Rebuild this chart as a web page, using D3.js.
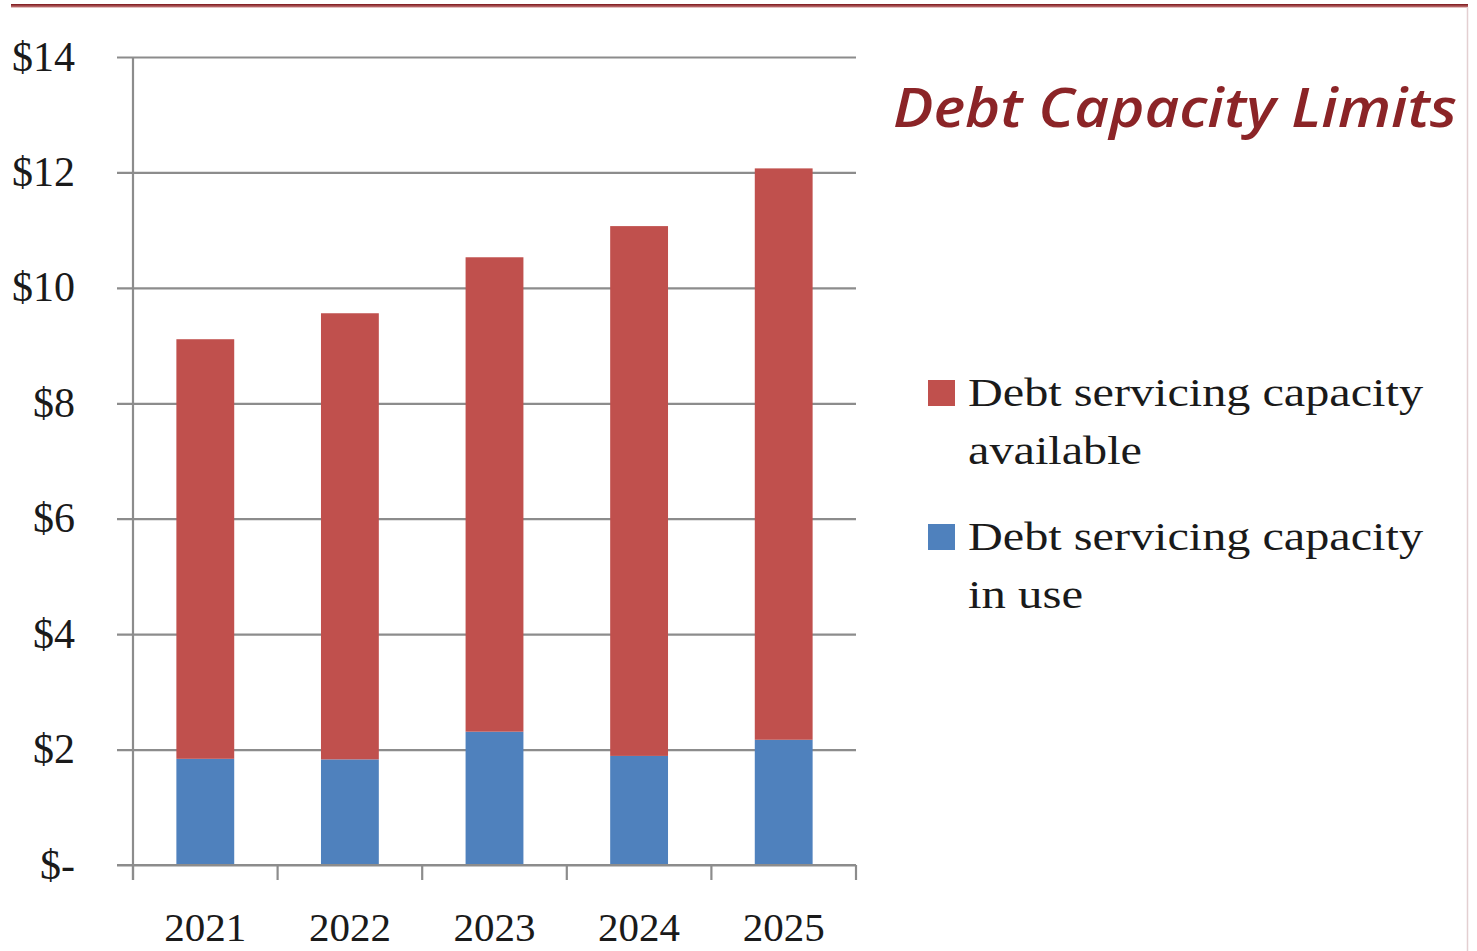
<!DOCTYPE html>
<html>
<head>
<meta charset="utf-8">
<script src="https://cdn.jsdelivr.net/npm/d3@7"></script>
<style>
  html, body { margin: 0; padding: 0; background: #fff; }
  svg { display: block; }
</style>
</head>
<body>
<svg id="chart" width="1477" height="951"></svg>
<script>
// ---- data ----
const years = ["2021", "2022", "2023", "2024", "2025"];
const inUse = [1.84, 1.83, 2.31, 1.89, 2.17];
const available = [7.27, 7.73, 8.22, 9.18, 9.90];
const yTicks = [0, 2, 4, 6, 8, 10, 12, 14];
const yTickLabels = ["$-", "$2", "$4", "$6", "$8", "$10", "$12", "$14"];
const seriesNames = ["Debt servicing capacity available", "Debt servicing capacity in use"];
const legendLines = [["Debt servicing capacity", "available"], ["Debt servicing capacity", "in use"]];
const title = "Debt Capacity Limits";

const colors = { available: "#C0504D", inUse: "#4F81BD" };
const gridColor = "#8c8c8c";
const serif = "'Liberation Serif', 'Times New Roman', serif";

const svg = d3.select("#chart");

// top decorative rule
const defs = svg.append("defs");
const grad = defs.append("linearGradient").attr("id", "rule").attr("x1", 0).attr("y1", 0).attr("x2", 0).attr("y2", 1);
grad.append("stop").attr("offset", "0%").attr("stop-color", "#7a1419");
grad.append("stop").attr("offset", "100%").attr("stop-color", "#c98080");
svg.append("rect").attr("x", 11).attr("y", 4).attr("width", 1457).attr("height", 3.5).attr("fill", "url(#rule)");
svg.append("line").attr("x1", 1467.5).attr("x2", 1467.5).attr("y1", 7).attr("y2", 951)
  .attr("stroke", "#e3cfd1").attr("stroke-width", 1.5);

// scales
const x = d3.scaleBand().domain(years).range([133, 856]).paddingInner(0.6).paddingOuter(0.3);
const y = d3.scaleLinear().domain([0, 14]).range([865, 57]);

// gridlines (extend left past axis as ticks)
const gridG = svg.append("g").attr("transform", "translate(856,0)")
  .call(d3.axisLeft(y).tickValues(yTicks).tickSize(856 - 117).tickFormat(""));
gridG.select(".domain").remove();
gridG.selectAll(".tick line").attr("stroke", gridColor).attr("stroke-width", 2.2);

// stacked bars
const rows = years.map((yr, i) => ({ year: yr, inUse: inUse[i], available: available[i] }));
const stack = d3.stack().keys(["inUse", "available"]);
const stacked = stack(rows);
svg.append("g").selectAll("g").data(stacked).join("g")
  .attr("fill", d => colors[d.key])
  .selectAll("rect").data(d => d).join("rect")
  .attr("x", d => x(d.data.year))
  .attr("width", x.bandwidth())
  .attr("y", d => y(d[1]))
  .attr("height", d => y(d[0]) - y(d[1]));

// y axis line
svg.append("line").attr("x1", 133).attr("x2", 133).attr("y1", y(14)).attr("y2", 880)
  .attr("stroke", gridColor).attr("stroke-width", 2.2);

// y labels
const yAxis = svg.append("g").attr("transform", "translate(133,0)")
  .call(d3.axisLeft(y).tickValues(yTicks).tickSize(0).tickPadding(58)
    .tickFormat((d, i) => yTickLabels[yTicks.indexOf(d)]));
yAxis.select(".domain").remove();
yAxis.selectAll("text").attr("font-family", serif).attr("font-size", 42).attr("fill", "#1a1a1a").attr("dy", "0.31em");

// x axis
const xAxis = svg.append("g").attr("transform", `translate(0,${y(0)})`)
  .call(d3.axisBottom(x).tickSize(0).tickPadding(0));
xAxis.select(".domain").remove();
xAxis.selectAll("text").attr("font-family", serif).attr("font-size", 41).attr("fill", "#1a1a1a")
  .attr("y", 76).attr("dy", 0);
svg.append("line").attr("x1", 117).attr("x2", 856).attr("y1", y(0)).attr("y2", y(0))
  .attr("stroke", gridColor).attr("stroke-width", 2.2);
// category boundary ticks
const step = x.step();
const bounds = d3.range(years.length + 1).map(i => x(years[0]) - (step - x.bandwidth()) / 2 + i * step);
svg.append("g").selectAll("line").data(bounds).join("line")
  .attr("x1", d => d).attr("x2", d => d).attr("y1", y(0)).attr("y2", 880)
  .attr("stroke", gridColor).attr("stroke-width", 2.2);

// title
svg.append("text").attr("x", 893).attr("y", 127)
  .attr("font-family", "'Open Sans', 'Lato', sans-serif").attr("font-style", "italic").attr("font-weight", 600)
  .attr("font-size", 54).attr("fill", "#8B2427")
  .attr("textLength", 564).attr("lengthAdjust", "spacingAndGlyphs")
  .text(title);

// legend
const legendData = [
  { key: "available", lines: legendLines[0], y0: 406, w: [455, 174] },
  { key: "inUse", lines: legendLines[1], y0: 550, w: [455, 115] }
];
const leg = svg.append("g");
legendData.forEach(d => {
  leg.append("rect").attr("x", 928).attr("y", d.y0 - 26).attr("width", 27).attr("height", 26).attr("fill", colors[d.key]);
  d.lines.forEach((ln, j) => {
    leg.append("text").attr("x", 968).attr("y", d.y0 + j * 58)
      .attr("font-family", serif).attr("font-size", 40).attr("fill", "#1a1a1a")
      .attr("textLength", d.w[j]).attr("lengthAdjust", "spacingAndGlyphs")
      .text(ln);
  });
});
</script>
</body>
</html>
